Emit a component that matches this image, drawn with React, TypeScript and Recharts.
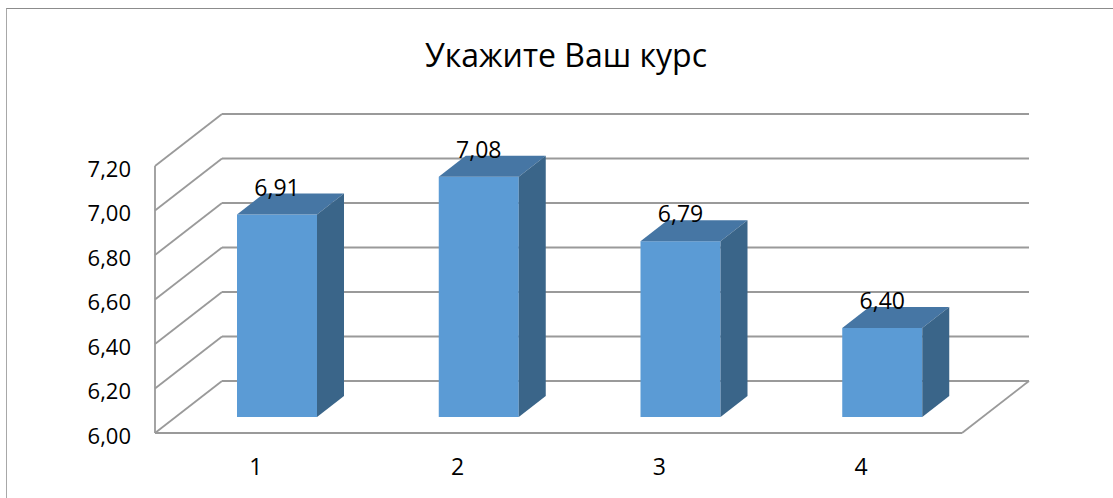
import { BarChart, Bar, XAxis, YAxis, CartesianGrid, LabelList } from "recharts";

const categories = ["1", "2", "3", "4"];
const values = [6.91, 7.08, 6.79, 6.4];
const yTicks = [6, 6.2, 6.4, 6.6, 6.8, 7.0, 7.2];
const title = "Укажите Ваш курс";

const data = categories.map((c, i) => ({ name: c, value: values[i] }));

// perspective offsets (back wall, bar position on floor, bar depth)
const WALL_DX = 67;
const WALL_DY = 52;
const BAR_X = 21;
const BAR_Y = 16;
const DEPTH_X = 27;
const DEPTH_Y = 21;

const GRID = "#9a9a9a";
const FONT = "'Open Sans', sans-serif";

const fmt = (v: number) => v.toFixed(2).replace(".", ",");

function WallLine(props: any) {
  const { x1, y1, x2, y, height } = props;
  const isFloor = Math.abs(y1 - (y + height)) < 0.5;
  const bx1 = x1 + WALL_DX;
  const bx2 = x2 + WALL_DX;
  const by = y1 - WALL_DY;
  return (
    <g>
      <line x1={x1} y1={y1} x2={bx1} y2={by} stroke={GRID} strokeWidth={1.8} />
      <line x1={bx1} y1={by} x2={bx2} y2={by} stroke={GRID} strokeWidth={1.8} />
      {isFloor && (
        <line x1={x2} y1={y1} x2={bx2} y2={by} stroke={GRID} strokeWidth={1.8} />
      )}
    </g>
  );
}

function Box(props: any) {
  const { x, y, width, height } = props;
  const fx = x + BAR_X;
  const fy = y - BAR_Y;
  const w = width;
  const h = height;
  const top = `${fx},${fy} ${fx + DEPTH_X},${fy - DEPTH_Y} ${fx + w + DEPTH_X},${fy - DEPTH_Y} ${fx + w},${fy}`;
  const side = `${fx + w},${fy} ${fx + w + DEPTH_X},${fy - DEPTH_Y} ${fx + w + DEPTH_X},${fy + h - DEPTH_Y} ${fx + w},${fy + h}`;
  return (
    <g>
      <rect x={fx} y={fy} width={w} height={h} fill="#5b9bd5" />
      <polygon points={top} fill="#4676a4" />
      <polygon points={side} fill="#3a6589" />
    </g>
  );
}

function ValueLabel(props: any) {
  const { x, y, width, value } = props;
  return (
    <text
      x={x + BAR_X + width / 2}
      y={y - BAR_Y - DEPTH_Y + 2}
      textAnchor="middle"
      fontFamily={FONT}
      fontSize={23}
      fill="#000"
    >
      {fmt(value)}
    </text>
  );
}

export default function App() {
  return (
    <div
      style={{
        position: "fixed",
        left: 6,
        top: 8,
        width: 1106,
        height: 489,
        borderLeft: "1px solid #a8a8a8",
        borderTop: "1px solid #8c8c8c",
        background: "#fff",
      }}
    >
      <div
        style={{
          position: "absolute",
          left: 0,
          width: 1118,
          top: 26,
          textAlign: "center",
          fontFamily: FONT,
          fontSize: 32,
          lineHeight: "40px",
          color: "#000",
        }}
      >
        {title}
      </div>
      <BarChart
        width={1106}
        height={489}
        data={data}
        margin={{ top: 157, right: 151, bottom: 0, left: 88 }}
      >
        <CartesianGrid vertical={false} horizontal={(p: any) => <WallLine {...p} />} />
        <XAxis
          dataKey="name"
          height={65}
          axisLine={{ stroke: GRID, strokeWidth: 1.8 }}
          tickLine={false}
          tickSize={0}
          tickMargin={26}
          tick={{ fill: "#000", fontFamily: FONT, fontSize: 23 }}
        />
        <YAxis
          width={60}
          domain={[6, 7.2]}
          ticks={yTicks}
          interval={0}
          tickFormatter={fmt}
          axisLine={{ stroke: GRID, strokeWidth: 1.8 }}
          tickLine={false}
          tickSize={0}
          tickMargin={24}
          tick={{ fill: "#000", fontFamily: FONT, fontSize: 22, dy: 3 }}
        />
        <Bar dataKey="value" barSize={80} shape={<Box />} isAnimationActive={false}>
          <LabelList dataKey="value" content={<ValueLabel />} />
        </Bar>
      </BarChart>
    </div>
  );
}
